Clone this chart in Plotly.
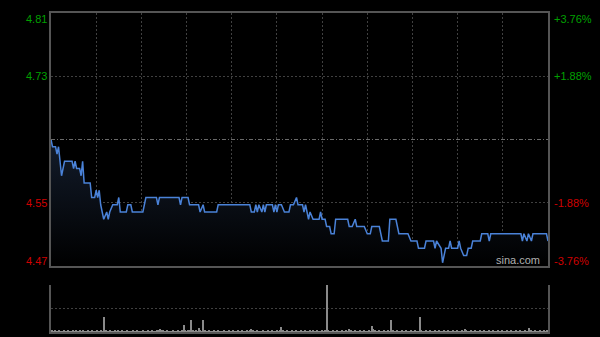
import plotly.graph_objects as go

# ---- data ----
prev_close = 4.64
price_minutes = [0, 1, 3, 4, 5, 7, 9, 14, 15, 16, 17, 19, 20, 21, 22, 26, 27, 29, 30, 31, 32, 33, 35, 37, 38, 39, 41,
                 44, 45, 46, 50, 51, 53, 54, 61, 63, 70, 71, 72, 85, 86, 87, 91, 92, 98, 99, 101, 102, 110, 111,
                 132, 133, 135, 136, 137, 138, 140, 141, 142, 143, 147, 148, 149, 150, 151, 153, 155, 158, 159,
                 161, 163, 164, 167, 168, 169, 170, 171, 172, 174, 178, 179, 180, 182, 183, 185, 186, 188, 189,
                 197, 198, 200, 202, 203, 208, 210, 212, 213, 218, 220, 224, 225, 229, 231, 237, 239, 243, 244,
                 248, 249, 254, 255, 256, 259, 260, 262, 264, 265, 266, 270, 271, 272, 274, 276, 277, 279, 280,
                 285, 286, 290, 291, 292, 312, 313, 314, 316, 317, 319, 320, 329, 330]
price_values = [4.64, 4.63, 4.63, 4.62, 4.63, 4.59, 4.61, 4.61, 4.60, 4.61, 4.60, 4.60, 4.59, 4.61, 4.58, 4.58, 4.56,
                4.56, 4.57, 4.56, 4.57, 4.55, 4.53, 4.54, 4.53, 4.54, 4.55,
                4.55, 4.56, 4.54, 4.54, 4.55, 4.55, 4.54, 4.54, 4.56, 4.56, 4.55, 4.56, 4.56, 4.55, 4.56, 4.56,
                4.55, 4.55, 4.54, 4.55, 4.54, 4.54, 4.55,
                4.55, 4.54, 4.54, 4.55, 4.54, 4.55, 4.54, 4.55, 4.54, 4.55, 4.55, 4.54, 4.55, 4.54, 4.55, 4.55,
                4.54, 4.54, 4.55,
                4.55, 4.56, 4.55, 4.55, 4.54, 4.55, 4.54, 4.53, 4.54, 4.53, 4.53, 4.54, 4.53, 4.53, 4.52, 4.52,
                4.51, 4.51, 4.53,
                4.53, 4.52, 4.52, 4.53, 4.52, 4.52, 4.51, 4.51, 4.52, 4.52, 4.50, 4.50, 4.53, 4.53, 4.51, 4.51,
                4.50, 4.50, 4.49,
                4.49, 4.50, 4.50, 4.49, 4.50, 4.49, 4.47, 4.49, 4.49, 4.50, 4.49, 4.49, 4.50, 4.49, 4.48, 4.48,
                4.49, 4.49, 4.50,
                4.50, 4.51, 4.51, 4.50, 4.51, 4.51, 4.50, 4.51, 4.50, 4.51, 4.50, 4.51, 4.51, 4.50]

volume_values = [
    3, 2, 3, 2, 2, 3, 2, 2, 3, 2, 2, 3, 2, 2, 3, 2, 3, 2, 2, 4, 2, 3, 2, 2, 3, 2, 2, 3, 2, 2,
    3, 2, 2, 3, 2, 31, 3, 2, 2, 3, 2, 2, 3, 2, 4, 2, 2, 3, 2, 2, 3, 2, 2, 2, 3, 2, 2, 3, 2, 2,
    2, 3, 2, 2, 3, 2, 2, 3, 2, 2, 3, 4, 6, 5, 3, 2, 2, 3, 2, 2, 2, 3, 2, 2, 3, 2, 2, 4, 15, 3,
    2, 3, 4, 26, 3, 2, 3, 2, 8, 3, 2, 26, 3, 2, 2, 3, 2, 2, 3, 2, 2, 3, 2, 2, 2, 3, 2, 2, 3, 2,
    2, 3, 2, 2, 3, 2, 2, 3, 2, 2, 3, 2, 3, 6, 3, 2, 2, 3, 2, 2, 2, 3, 2, 2, 3, 2, 2, 3, 2, 2,
    3, 2, 4, 10, 3, 2, 2, 3, 2, 2, 3, 2, 2, 3, 2, 2, 3, 2, 2, 3, 2, 2, 3, 2, 3, 2, 2, 3, 2, 2,
    3, 2, 3, 100, 3, 2, 2, 3, 2, 2, 3, 2, 2, 3, 2, 2, 3, 2, 6, 3, 2, 2, 3, 2, 2, 3, 2, 2, 3, 2,
    2, 3, 2, 13, 6, 3, 2, 2, 3, 2, 2, 3, 2, 2, 3, 2, 26, 3, 2, 2, 3, 2, 2, 3, 2, 2, 3, 2, 2, 3,
    2, 2, 3, 2, 2, 31, 3, 2, 2, 3, 2, 2, 3, 2, 2, 3, 2, 2, 3, 2, 2, 3, 2, 2, 3, 2, 2, 3, 2, 2,
    3, 2, 2, 3, 2, 6, 3, 2, 2, 3, 2, 2, 3, 2, 2, 3, 2, 2, 3, 2, 2, 3, 2, 2, 3, 2, 2, 3, 2, 2,
    3, 2, 2, 3, 2, 2, 3, 2, 2, 3, 2, 2, 3, 2, 2, 3, 2, 2, 8, 3, 2, 2, 3, 2, 2, 3, 2, 2, 3, 2,
    3]
volume_minutes = list(range(len(volume_values)))

left_labels = ["4.81", "4.73", "4.55", "4.47"]
right_labels = ["+3.76%", "+1.88%", "-1.88%", "-3.76%"]
pct_levels = [0.0376, 0.0188, -0.0188, -0.0376]

# ---- figure ----
levels = [prev_close * (1 + p) for p in pct_levels]
ymin, ymax = levels[-1], levels[0]
GREEN = "#00a000"
RED = "#d00000"
FRAME = "#555555"
GRID = "#404040"
FONT = "Liberation Sans, Arial, sans-serif"

fig = go.Figure()
fig.add_trace(go.Scatter(
    x=price_minutes, y=price_values, mode="lines",
    line=dict(color="#4a82d8", width=1.5),
    fill="tozeroy",
    fillgradient=dict(type="vertical", colorscale=[[0, "#000000"], [1, "#131c2b"]],
                      start=ymin, stop=prev_close),
    xaxis="x", yaxis="y", hoverinfo="skip"))

fig.add_trace(go.Bar(
    x=volume_minutes, y=volume_values, width=0.7,
    marker=dict(color="#8a8a8a", line=dict(width=0)),
    xaxis="x2", yaxis="y2", hoverinfo="skip"))

fig.update_layout(
    width=600, height=337,
    margin=dict(l=51, r=52, t=13, b=5),
    paper_bgcolor="#000000", plot_bgcolor="#000000",
    showlegend=False, bargap=0,
    font=dict(family=FONT, size=11),
    xaxis=dict(domain=[0, 1], range=[0, 330], anchor="y", showticklabels=False, ticks="",
               showgrid=True, tick0=0, dtick=30, gridcolor=GRID, griddash="2px,2px", gridwidth=1,
               showline=True, mirror=True, linecolor=FRAME, linewidth=1.5, zeroline=False),
    yaxis=dict(domain=[0.2069, 1], range=[ymin, ymax], showticklabels=False, ticks="",
               tickvals=[levels[1], levels[2]], showgrid=True, gridcolor=GRID, griddash="2px,2px",
               showline=True, mirror=True, linecolor=FRAME, linewidth=1.5, zeroline=False),
    xaxis2=dict(domain=[0, 1], range=[-0.5, 330.5], anchor="y2", showticklabels=False, ticks="",
                showgrid=False, showline=True, linecolor=FRAME, linewidth=1.5, zeroline=False),
    yaxis2=dict(domain=[0, 0.1473], range=[0, 100], showticklabels=False, ticks="",
                tickvals=[50, 100], showgrid=True, gridcolor=GRID, griddash="2px,2px",
                showline=True, mirror=True, linecolor=FRAME, linewidth=1.5, zeroline=False),
)

# previous close dashed line
fig.add_shape(type="line", xref="x domain", yref="y", x0=0, x1=1, y0=prev_close, y1=prev_close,
              line=dict(color="#6a6a6a", width=1, dash="4px,2px,1px,2px"))

# axis labels
anchors = ["top", "middle", "middle", "bottom"]
for lab, rlab, lev, anc in zip(left_labels, right_labels, levels, anchors):
    col = GREEN if lev > prev_close else RED
    yshift = 2 if anc == "top" else (-3 if anc == "bottom" else 0)
    fig.add_annotation(xref="paper", yref="y", x=0, y=lev, text=lab, showarrow=False,
                       xanchor="right", yanchor=anc, xshift=-2, yshift=yshift,
                       font=dict(color=col, size=11, family=FONT))
    fig.add_annotation(xref="paper", yref="y", x=1, y=lev, text=rlab, showarrow=False,
                       xanchor="left", yanchor=anc, xshift=4, yshift=yshift,
                       font=dict(color=col, size=11, family=FONT))

fig.add_annotation(xref="paper", yref="y", x=0.94, y=ymin, text="sina.com", showarrow=False,
                   xanchor="center", yanchor="bottom", yshift=-2,
                   font=dict(color="#b0b0b0", size=11, family=FONT))

fig.write_html("out.html")
